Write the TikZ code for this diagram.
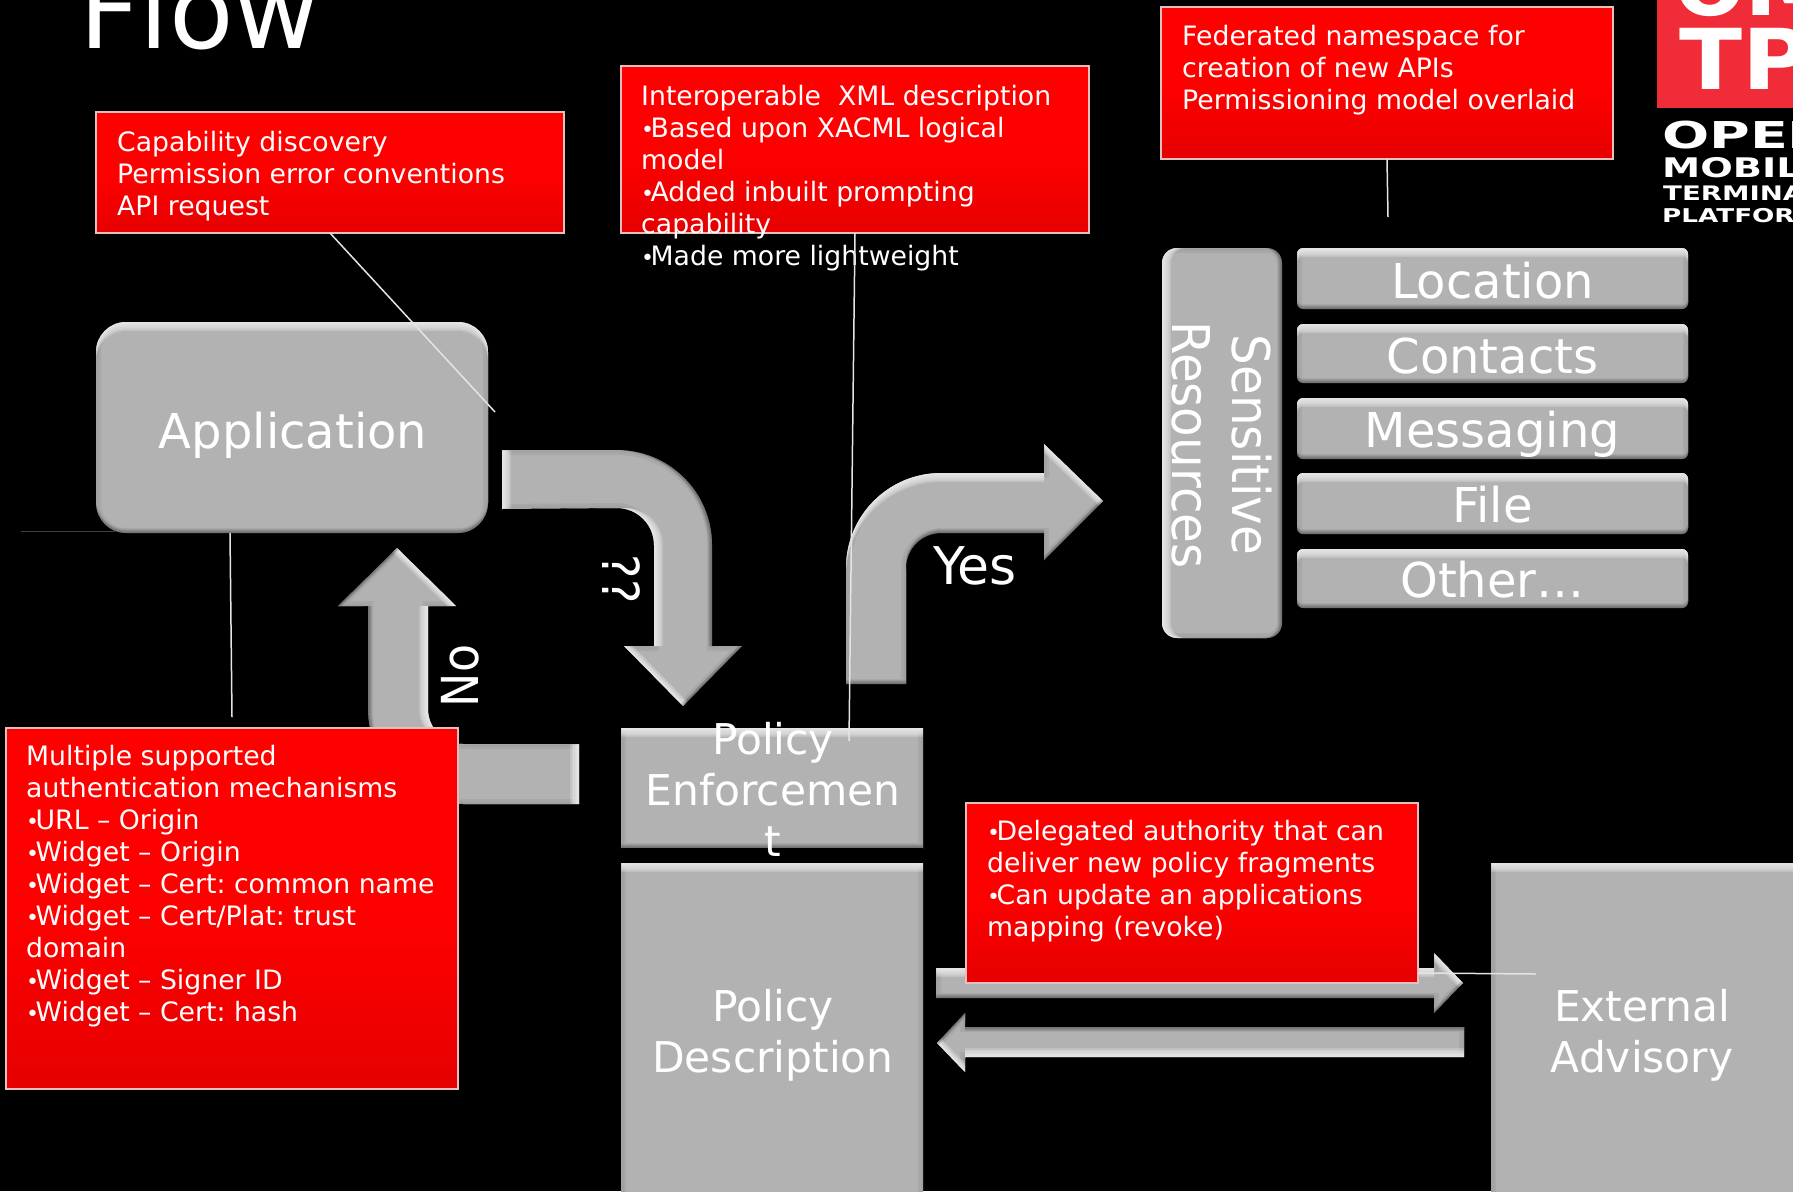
\documentclass[tikz,border=0pt]{standalone}
\usepackage{fontspec}
\setmainfont{DejaVu Sans}
\newfontfamily\logofontA{DejaVu Sans Bold}[FakeStretch=1.5]
\newfontfamily\logofontC{DejaVu Sans Bold}[FakeStretch=1.42]
\newfontfamily\logofontB{DejaVu Sans Bold}[FakeStretch=1.38]
\newfontfamily\omfont{DejaVu Sans Bold}
\newfontfamily\omfontw{DejaVu Sans Bold}[FakeStretch=1.1]
\newfontfamily\sidefont{DejaVu Sans}[FakeStretch=0.93]
\newfontfamily\rotfont{DejaVu Sans}[FakeStretch=0.9]
\definecolor{shapegray}{HTML}{B2B2B2}
\definecolor{leader}{HTML}{E4E4E4}
\definecolor{logored}{HTML}{F02C38}
\definecolor{calloutedge}{HTML}{E8BEBE}
\newcommand{\firstline}{\rule{0pt}{24pt}}
\newcommand{\bigline}{\rule{0pt}{36pt}}
\newcommand{\bul}{{\fontsize{22}{32}\selectfont •}\kern-3.5pt\relax}
% #1 path options, #2 path, #3 and #4 unit vector towards the light (page coordinates, y down)
\newcommand{\bevel}[4]{%
  \fill[shapegray,#1] #2;
  \begin{scope}
    \clip[#1] #2;
    \draw[black,opacity=.05,line width=10pt,#1] #2;
    \draw[black,opacity=.03,line width=5pt,#1] #2;
    \foreach \s in {1.5,3,4.5,6,7.5,9}{
      \begin{scope}[shift={({-(#3)*\s},{-(#4)*\s})}]
        \fill[white,opacity=.2,even odd rule,#1] (-3000,-3000) rectangle (3000,3000) #2;
      \end{scope}
    }
    \foreach \s in {1,2,3,4}{
      \begin{scope}[shift={({(#3)*\s},{(#4)*\s})}]
        \fill[black,opacity=.08,even odd rule,#1] (-3000,-3000) rectangle (3000,3000) #2;
      \end{scope}
    }
  \end{scope}}
\tikzset{
  bigtext/.style={text=white,font=\fontsize{48}{51}\selectfont,inner sep=0pt,align=center,anchor=base},
  blocktext/.style={text=white,font=\fontsize{42.4}{51}\selectfont,inner sep=0pt,align=center,anchor=north},
  rottext/.style={text=white,font=\rotfont\fontsize{51}{58}\selectfont,inner sep=0pt,align=center},
  calloutbox/.style={draw=calloutedge,line width=2pt,anchor=north west,inner sep=0pt,outer sep=0pt,
     top color=red,bottom color=red!90!black,middle color=red,shading angle=0},
  callouttext/.style={text=white,font=\fontsize{26.7}{32}\selectfont,anchor=north west,inner sep=0pt,align=left},
  leaderline/.style={leader,line width=1.5pt},
  logotext/.style={text=white,inner sep=0pt,anchor=base west}
}
\frenchspacing
\begin{document}
\begin{tikzpicture}[x=1pt,y=-1pt]
\useasboundingbox (0,0) rectangle (1793,1191);
\clip (0,0) rectangle (1793,1191);
\fill[black] (0,0) rectangle (1793,1191);

% title
\node[text=white,font=\fontsize{105.5}{107}\selectfont,inner sep=0pt,anchor=base west] (title) at (79,48) {Flow};

% logo
\fill[logored] (1657,0) rectangle (1793,108);
\node[logotext,font=\omfont\fontsize{84}{84}\selectfont] (logoa) at (1674,15) {O};
\node[logotext,font=\omfontw\fontsize{84}{84}\selectfont] (logoa2) at (1744,15) {M};
\node[logotext,font=\omfontw\fontsize{84}{84}\selectfont] (logob) at (1679,89) {TP};
\node[logotext,font=\logofontA\fontsize{37}{37}\selectfont] (logoc) at (1662,148) {OPEN};
\node[logotext,font=\logofontC\fontsize{27}{27}\selectfont] (logod) at (1662,177) {MOBILE};
\node[logotext,font=\logofontB\fontsize{20}{20}\selectfont] (logoe) at (1663,200) {TERMINAL};
\node[logotext,font=\logofontB\fontsize{19}{19}\selectfont] (logof) at (1662,222) {PLATFORM};

% block arrows
\bevel{}{(502,450) -- (617,450) arc[start angle=-90,end angle=0,radius=95] -- (712,646) -- (742,646) -- (683,706) -- (624,646) -- (654,646) -- (654,545) arc[start angle=0,end angle=-90,radius=37] -- (502,509) -- cycle}{-1}{0}
\bevel{}{(846,684) -- (846,568) arc[start angle=180,end angle=270,radius=95] -- (1044,473) -- (1044,444) -- (1103,501) -- (1044,560) -- (1044,533) -- (941,533) arc[start angle=270,end angle=180,radius=35] -- (906,684) -- cycle}{0}{-1}
\bevel{}{(579,744) -- (463,744) arc[start angle=90,end angle=180,radius=35] -- (428,606) -- (456,606) -- (397,548) -- (338,606) -- (368,606) -- (368,709) arc[start angle=180,end angle=90,radius=95] -- (579,804) -- cycle}{1}{0}
\bevel{}{(936,968) -- (1434,968) -- (1434,953) -- (1463,983) -- (1434,1013) -- (1434,998) -- (936,998) -- cycle}{0}{-1}
\bevel{}{(1464,1027) -- (965,1027) -- (965,1013) -- (937,1043) -- (965,1072) -- (965,1057) -- (1464,1057) -- cycle}{0}{1}

% gray blocks
\bevel{rounded corners=30pt}{(96,322) rectangle (488,533)}{0}{-1}
\bevel{rounded corners=15pt}{(1162,248) rectangle (1282,638)}{-1}{0}
\bevel{rounded corners=6pt}{(1297,248) rectangle (1688,309)}{0}{-1}
\bevel{rounded corners=6pt}{(1297,324) rectangle (1688,383)}{0}{-1}
\bevel{rounded corners=6pt}{(1297,398) rectangle (1688,459)}{0}{-1}
\bevel{rounded corners=6pt}{(1297,473) rectangle (1688,534)}{0}{-1}
\bevel{rounded corners=6pt}{(1297,549) rectangle (1688,608)}{0}{-1}
\bevel{}{(621,728) rectangle (923,848)}{0}{-1}
\bevel{}{(621,863) rectangle (923,1230)}{0}{-1}
\bevel{}{(1491,863) rectangle (1830,1230)}{0}{-1}

% block labels
\node[bigtext] (app) at (293,448) {Application};
\node[text=white,inner sep=0pt,align=center,rotate=-90,font=\sidefont\fontsize{52}{60}\selectfont] (sens) at (1222,445) {Sensitive\\Resources};
\node[bigtext] (loc) at (1492.5,298) {Location};
\node[bigtext] (con) at (1492.5,373) {Contacts};
\node[bigtext] (msg) at (1492.5,447) {Messaging};
\node[bigtext] (fil) at (1492.5,522.5) {File};
\node[bigtext] (oth) at (1492.5,597) {Other…};
\node[blocktext] (pe) at (773,718) {\bigline Policy\\Enforcemen\\t};
\node[blocktext] (pd) at (773,985) {\bigline Policy\\Description};
\node[blocktext] (ea) at (1642,985) {\bigline External\\Advisory};
\node[bigtext,font=\fontsize{52}{54}\selectfont] (yes) at (975,584) {Yes};
\node[rottext,rotate=90] (no) at (460,676) {No};
\node[rottext,rotate=-90] (qq) at (621,579) {??};

% callouts
\node[calloutbox,minimum width=468pt,minimum height=121pt] (c1) at (96,112) {};
\node[calloutbox,minimum width=468pt,minimum height=167pt] (c2) at (621,66) {};
\node[calloutbox,minimum width=452pt,minimum height=152pt] (c3) at (1161,7) {};
\node[calloutbox,minimum width=452pt,minimum height=361pt] (c4) at (6,728) {};
\node[calloutbox,minimum width=452pt,minimum height=180pt] (c5) at (966,803) {};
\node[callouttext] (c1t) at (117,127) {\firstline Capability discovery\\Permission error conventions\\API request};
\node[callouttext] (c2t) at (641,81) {\firstline Interoperable\ \ XML description\\\bul Based upon XACML logical\\model\\\bul Added inbuilt prompting\\capability\\\bul Made more lightweight};
\node[callouttext] (c3t) at (1182,21) {\firstline Federated namespace for\\creation of new APIs\\Permissioning model overlaid};
\node[callouttext] (c4t) at (26,741) {\firstline Multiple supported\\authentication mechanisms\\\bul URL – Origin\\\bul Widget – Origin\\\bul Widget – Cert: common name\\\bul Widget – Cert/Plat: trust\\domain\\\bul Widget – Signer ID\\\bul Widget – Cert: hash};
\node[callouttext] (c5t) at (987,816) {\firstline \bul Delegated authority that can\\deliver new policy fragments\\\bul Can update an applications\\mapping (revoke)};

% leader lines
\coordinate (l1) at (495,412);
\coordinate (l2) at (849,741);
\coordinate (l3) at (1388,217);
\coordinate (l4) at (232,717);
\coordinate (l5) at (1536,974);
\coordinate (l6) at (21,531);
\coordinate (l7) at (1418,973);
\draw[leaderline] (c1.south) -- (l1);
\draw[leaderline] (c2.south) -- (l2);
\draw[leaderline] (c3.south) -- (l3);
\draw[leaderline] (230,533) -- (l4);
\draw[leaderline] (l7) -- (l5);
\draw[line width=1pt,color=black!75] (l6) -- (115,531);
\end{tikzpicture}
\end{document}
